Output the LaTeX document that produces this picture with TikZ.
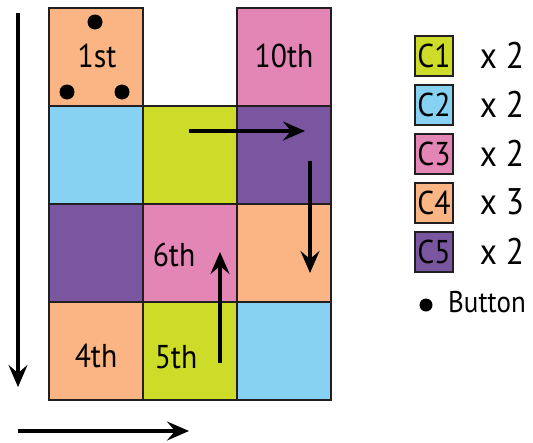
\documentclass[tikz,border=0pt]{standalone}
\usepackage{fontspec}
\setmainfont{PT Sans}[FakeStretch=0.9]
\usetikzlibrary{arrows.meta}
\definecolor{cOr}{HTML}{FBB584}
\definecolor{cBl}{HTML}{87D1F2}
\definecolor{cGr}{HTML}{CDDC28}
\definecolor{cPk}{HTML}{E385B5}
\definecolor{cPu}{HTML}{7A56A0}
\definecolor{edge}{HTML}{231F20}
\tikzset{
  cell/.style={draw=edge, line width=1.6pt, minimum width=94pt, minimum height=98pt, inner sep=0pt, anchor=north west},
  lbox/.style={draw=edge, line width=1.3pt, minimum width=38pt, minimum height=40pt, inner sep=0pt, font=\fontsize{33}{33}\selectfont},
  cnt/.style={font=\fontsize{37}{37}\selectfont, inner sep=0pt},
  lbl/.style={font=\fontsize{33}{33}\selectfont, inner sep=0pt},
  flow/.style={line width=3.4pt, -{Stealth[length=22pt, width=19pt, inset=8pt]}},
  btn/.style={circle, fill=black, minimum size=15pt, inner sep=0pt}
}
\begin{document}
\begin{tikzpicture}[x=1pt, y=-1pt]
\useasboundingbox (0,0) rectangle (533,442);
% grid
\node[cell, fill=cOr] (r0c0) at (48,7) {};
\node[cell, fill=cPk] (r0c2) at (236,7) {};
\node[cell, fill=cBl] (r1c0) at (48,105) {};
\node[cell, fill=cGr] (r1c1) at (142,105) {};
\node[cell, fill=cPu] (r1c2) at (236,105) {};
\node[cell, fill=cPu] (r2c0) at (48,203) {};
\node[cell, fill=cPk] (r2c1) at (142,203) {};
\node[cell, fill=cOr] (r2c2) at (236,203) {};
\node[cell, fill=cOr] (r3c0) at (48,301) {};
\node[cell, fill=cGr] (r3c1) at (142,301) {};
\node[cell, fill=cBl] (r3c2) at (236,301) {};
% labels
\node[lbl] (t1) at (97,56) {1st};
\node[lbl] (t10) at (284,56) {10th};
\node[lbl] (t6) at (174,255) {6th};
\node[lbl] (t4) at (96,356) {4th};
\node[lbl] (t5) at (176,357) {5th};
% buttons
\node[btn] (b1) at (95,22) {};
\node[btn] (b2) at (67,92) {};
\node[btn] (b3) at (122,92) {};
% arrows
\coordinate (a1s) at (189,131);
\coordinate (a1e) at (305,131);
\draw[flow] (a1s) -- (a1e);
\coordinate (a2s) at (310,161);
\coordinate (a2e) at (310,273);
\draw[flow] (a2s) -- (a2e);
\coordinate (a3s) at (220,363);
\coordinate (a3e) at (220,252);
\draw[flow] (a3s) -- (a3e);
\coordinate (a4s) at (18,13);
\coordinate (a4e) at (18,387);
\draw[flow] (a4s) -- (a4e);
\coordinate (a5s) at (18,431);
\coordinate (a5e) at (189,431);
\draw[flow] (a5s) -- (a5e);
% legend
\node[lbox, fill=cGr] (L1) at (434,56) {C1};
\node[lbox, fill=cBl] (L2) at (434,105) {C2};
\node[lbox, fill=cPk] (L3) at (434,154) {C3};
\node[lbox, fill=cOr] (L4) at (434,203) {C4};
\node[lbox, fill=cPu] (L5) at (434,252) {C5};
\node[cnt] (n1) at (502,55) {x 2};
\node[cnt] (n2) at (502,104) {x 2};
\node[cnt] (n3) at (502,153) {x 2};
\node[cnt] (n4) at (502,202) {x 3};
\node[cnt] (n5) at (502,251) {x 2};
\node[btn, minimum size=13pt] (lb) at (426,305) {};
\node[lbl, anchor=west, font=\fontsize{30}{30}\selectfont] (lbt) at (448,302) {Button};
\end{tikzpicture}
\end{document}
